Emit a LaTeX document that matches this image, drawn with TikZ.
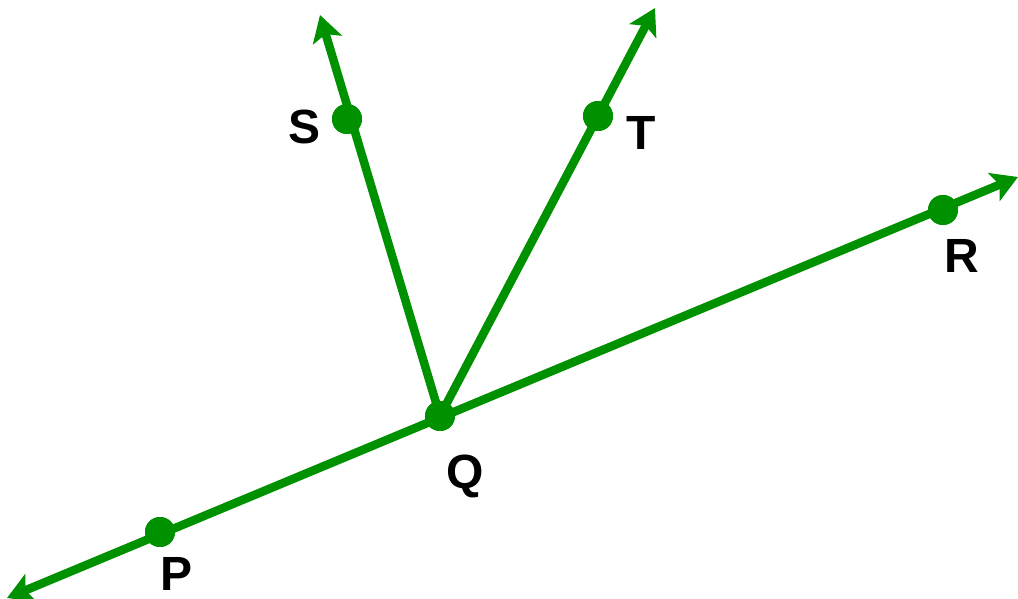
\documentclass[tikz,border=0pt]{standalone}
\usepackage{fontspec}
\setmainfont{Liberation Sans}
\usetikzlibrary{arrows.meta}
\definecolor{lg}{RGB}{0,145,0}
\tikzset{tip/.tip={Stealth[length=26pt,width=30pt,inset=6pt]}}
\begin{document}
\begin{tikzpicture}[x=1pt,y=-1pt,
  ray/.style={draw=lg,line width=8.5pt,-tip},
  dot/.style={circle,fill=lg,inner sep=0pt,minimum size=30pt},
  lbl/.style={font=\fontsize{48}{48}\selectfont\bfseries,text=black,inner sep=0pt}]
\useasboundingbox (0,0) rectangle (1018,599);
\coordinate (ptip) at (7,598);
\coordinate (rtip) at (1018,177);
\coordinate (stip) at (320,15);
\coordinate (ttip) at (655,8);
\node[dot] (Q) at (440,416) {};
\node[dot] (P) at (160,532) {};
\node[dot] (R) at (943,210) {};
\node[dot] (S) at (347,119) {};
\node[dot] (T) at (598,116) {};
\draw[ray,tip-tip] (ptip) -- (rtip);
\draw[ray] (Q.center) -- (stip);
\draw[ray] (Q.center) -- (ttip);
\node[dot] at (Q) {};
\node[dot] at (P) {};
\node[dot] at (R) {};
\node[dot] at (S) {};
\node[dot] at (T) {};
\node[lbl] (lS) at (305,127) {S};
\node[lbl] (lT) at (641,133) {T};
\node[lbl] (lR) at (962,256) {R};
\node[lbl] (lQ) at (465,476) {Q};
\node[lbl] (lP) at (177,574) {P};
\end{tikzpicture}
\end{document}
